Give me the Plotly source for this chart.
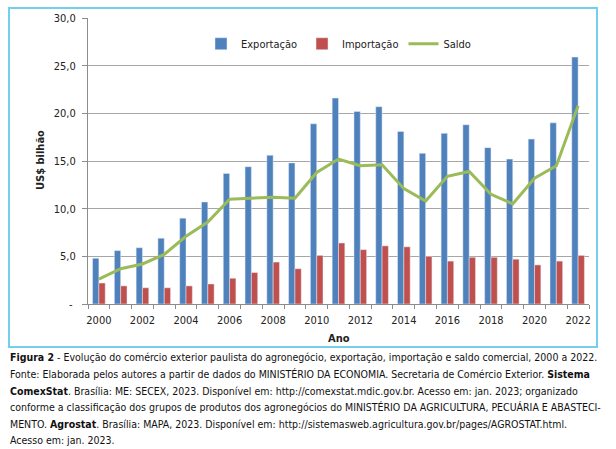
import plotly.graph_objects as go

years = list(range(2000, 2023))
exportacao = [4.8, 5.6, 5.9, 6.9, 9.0, 10.7, 13.7, 14.4, 15.6, 14.8, 18.9, 21.6, 20.2, 20.7,
              18.1, 15.8, 17.9, 18.8, 16.4, 15.2, 17.3, 19.0, 25.9]
importacao = [2.2, 1.9, 1.7, 1.7, 1.9, 2.1, 2.7, 3.3, 4.4, 3.7, 5.1, 6.4, 5.7, 6.1,
              6.0, 5.0, 4.5, 4.9, 4.9, 4.7, 4.1, 4.5, 5.1]
saldo = [2.6, 3.7, 4.2, 5.2, 7.1, 8.6, 11.0, 11.1, 11.2, 11.1, 13.8, 15.2, 14.5, 14.6,
         12.1, 10.8, 13.4, 13.9, 11.5, 10.5, 13.2, 14.5, 20.8]
y_tickvals = [0, 5, 10, 15, 20, 25, 30]
y_ticktext = ["-\u00a0", "5,0", "10,0", "15,0", "20,0", "25,0", "30,0"]
x_tickvals = list(range(2000, 2023, 2))

caption_lines = [
    "<b>Figura 2</b> - Evolução do comércio exterior paulista do agronegócio, exportação, importação e saldo comercial, 2000 a 2022.",
    "Fonte: Elaborada pelos autores a partir de dados do MINISTÉRIO DA ECONOMIA. Secretaria de Comércio Exterior. <b>Sistema</b>",
    "<b>ComexStat</b>. Brasília: ME: SECEX, 2023. Disponível em: http://comexstat.mdic.gov.br. Acesso em: jan. 2023; organizado",
    "conforme a classificação dos grupos de produtos dos agronegócios do MINISTÉRIO DA AGRICULTURA, PECUÁRIA E ABASTECI-",
    "MENTO. <b>Agrostat</b>. Brasília: MAPA, 2023. Disponível em: http://sistemasweb.agricultura.gov.br/pages/AGROSTAT.html.",
    "Acesso em: jan. 2023.",
]

FONT = "DejaVu Sans Condensed, Liberation Sans, sans-serif"
W, H = 616, 449
L, R, T, B = 88, 27, 15, 145
pw, ph = W - L - R, H - T - B

def px_x(x):
    return (x - L) / pw

def px_y(y):
    return (H - B - y) / ph

fig = go.Figure()
fig.add_trace(go.Bar(x=years, y=exportacao, name="Exportação", marker_color="#4F81BD"))
fig.add_trace(go.Bar(x=years, y=importacao, name="Importação", marker_color="#C0504D"))
fig.add_trace(go.Scatter(x=years, y=saldo, name="Saldo", mode="lines",
                         line=dict(color="#9BBB59", width=3)))

annotations = [
    dict(text="<b>US$ bilhão</b>", x=px_x(40.5), y=px_y(159), xref="paper", yref="paper",
         textangle=-90, showarrow=False, xanchor="center", yanchor="middle",
         font=dict(family=FONT, size=11, color="#222")),
    dict(text="<b>Ano</b>", x=px_x(339), y=px_y(339), xref="paper", yref="paper",
         showarrow=False, xanchor="center", yanchor="middle",
         font=dict(family=FONT, size=11, color="#222")),
]
line_y = [358, 375, 392, 408.5, 425, 441]
for t, yy in zip(caption_lines, line_y):
    annotations.append(dict(text=t, x=px_x(8), y=px_y(yy), xref="paper", yref="paper",
                            showarrow=False, xanchor="left", yanchor="middle",
                            font=dict(family=FONT, size=10.5, color="#111")))

fig.update_layout(
    width=W, height=H,
    margin=dict(l=L, r=R, t=T, b=B),
    paper_bgcolor="white", plot_bgcolor="white",
    barmode="group", bargap=0.42, bargroupgap=0.0,
    font=dict(family=FONT, size=11, color="#222"),
    legend=dict(orientation="h", x=0.5, xanchor="center", y=px_y(41), yanchor="middle",
                font=dict(family=FONT, size=11, color="#222"), bgcolor="rgba(0,0,0,0)",
                itemwidth=30, tracegroupgap=0),
    xaxis=dict(range=[1999.5, 2022.5], tickmode="array", tickvals=x_tickvals,
               ticktext=[str(v) for v in x_tickvals], ticks="", showgrid=False,
               showline=True, linecolor="#8c8c8c", linewidth=1, zeroline=False,
               ticklabelstandoff=6,
               minor=dict(ticks="outside", ticklen=4, tick0=1999.5, dtick=1,
                          tickcolor="#8c8c8c", showgrid=False),
               tickfont=dict(family=FONT, size=11, color="#222")),
    yaxis=dict(range=[0, 30], tickmode="array", tickvals=y_tickvals, ticktext=y_ticktext,
               ticks="outside", ticklen=5, tickcolor="#8c8c8c", showgrid=True,
               gridcolor="#a6a6a6", gridwidth=1, showline=True, linecolor="#8c8c8c",
               zeroline=False, ticklabelstandoff=4,
               tickfont=dict(family=FONT, size=11, color="#222")),
    annotations=annotations,
    shapes=[dict(type="rect", xref="paper", yref="paper",
                 x0=px_x(9), x1=px_x(597), y0=px_y(347.5), y1=px_y(5),
                 line=dict(color="#72CFEE", width=2), fillcolor="rgba(0,0,0,0)",
                 layer="above")],
)

fig.write_html("out.html", config={"displayModeBar": False},
               post_script="document.body.style.margin='0';document.body.style.padding='0';")
